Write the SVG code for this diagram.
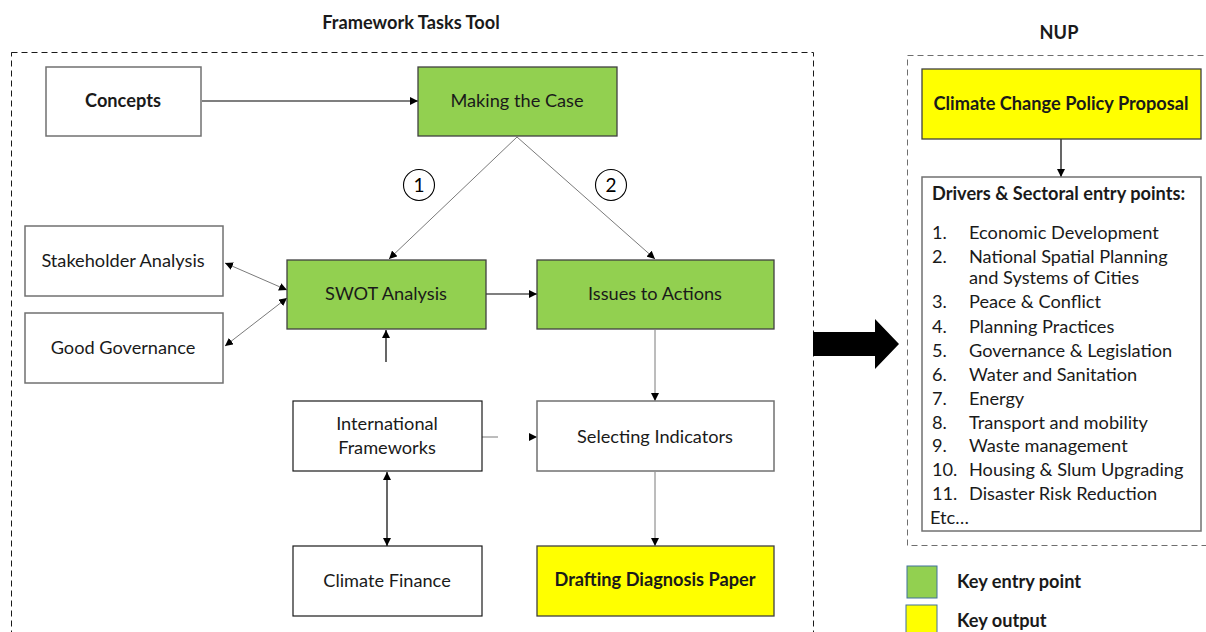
<svg xmlns="http://www.w3.org/2000/svg" width="1206" height="632" viewBox="0 0 1206 632">
<defs>
<style>
text{font-family:Lato,"Liberation Sans",sans-serif;fill:#1a1a1a}
.t{font-size:18.2px;text-anchor:middle}
.b{font-weight:bold}
.box{fill:#fff;stroke:#707070;stroke-width:1.5}
.boxk{fill:#fff;stroke:#1a1a1a;stroke-width:1.2}
.green{fill:#92D050;stroke:#404040;stroke-width:1.3}
.yellow{fill:#FFFF00;stroke:#404040;stroke-width:1.3}
.dash{fill:none;stroke:#1a1a1a;stroke-width:1;stroke-dasharray:6 4}
.dashg{fill:none;stroke:#6e6e6e;stroke-width:1;stroke-dasharray:6 4}
.c{fill:none;stroke:#000;stroke-width:1.2}
.cg{fill:none;stroke:#7a7a7a;stroke-width:1}
.li{font-size:18.2px}
</style>
<marker id="ah" viewBox="0 0 10 10" refX="10" refY="5" markerWidth="8" markerHeight="8" markerUnits="userSpaceOnUse" orient="auto-start-reverse">
<path d="M0,0 L10,5 L0,10 z" fill="#000"/>
</marker>
</defs>

<g id="frames">
<rect class="dash" x="11.5" y="52.5" width="802" height="600"/>
<rect class="dashg" x="907.5" y="55.5" width="320" height="490"/>
<text class="t b" x="411" y="29">Framework Tasks Tool</text>
<text class="t b" x="1059" y="39">NUP</text>
</g>

<g id="connectors">
<line class="c" x1="202" y1="101" x2="418" y2="101" marker-end="url(#ah)"/>
<line class="cg" x1="517" y1="137" x2="389" y2="259" marker-end="url(#ah)"/>
<line class="cg" x1="517" y1="137" x2="655" y2="259" marker-end="url(#ah)"/>
<line class="c" x1="486" y1="294" x2="537" y2="294" marker-end="url(#ah)"/>
<line class="cg" x1="225" y1="263" x2="287" y2="290" marker-start="url(#ah)" marker-end="url(#ah)"/>
<line class="cg" x1="225" y1="346" x2="287" y2="298" marker-start="url(#ah)" marker-end="url(#ah)"/>
<line class="c" x1="386" y1="362" x2="386" y2="330" marker-end="url(#ah)"/>
<line class="cg" x1="655" y1="330" x2="655" y2="401" marker-end="url(#ah)"/>
<line class="cg" x1="655" y1="472" x2="655" y2="546" marker-end="url(#ah)"/>
<path class="cg" d="M482,437 L537,437" stroke-dasharray="16 33 6" marker-end="url(#ah)"/>
<line class="c" x1="387" y1="472" x2="387" y2="546" marker-start="url(#ah)" marker-end="url(#ah)"/>
<line class="c" x1="1061" y1="139" x2="1061" y2="177" marker-end="url(#ah)"/>
<path d="M813,332 L875,332 L875,319 L899,344 L875,369 L875,356 L813,356 z" fill="#000"/>
</g>

<g id="label-1">
<circle cx="419" cy="185" r="15.5" fill="#fff" stroke="#000" stroke-width="1.1"/>
<text class="t" x="419" y="192" style="font-size:19px;fill:#000">1</text>
</g>
<g id="label-2">
<circle cx="611" cy="185" r="15.5" fill="#fff" stroke="#000" stroke-width="1.1"/>
<text class="t" x="611" y="192" style="font-size:19px;fill:#000">2</text>
</g>

<g id="concepts">
<rect class="box" x="46" y="67" width="155" height="69"/>
<text class="t b" x="123" y="107">Concepts</text>
</g>
<g id="making-the-case">
<rect class="green" x="418" y="67" width="199" height="69"/>
<text class="t" x="517" y="107">Making the Case</text>
</g>
<g id="stakeholder-analysis">
<rect class="box" x="25" y="226" width="198" height="70"/>
<text class="t" x="123" y="267">Stakeholder Analysis</text>
</g>
<g id="good-governance">
<rect class="box" x="25" y="313" width="198" height="70"/>
<text class="t" x="123" y="354">Good Governance</text>
</g>
<g id="swot-analysis">
<rect class="green" x="287" y="260" width="199" height="69"/>
<text class="t" x="386" y="300">SWOT Analysis</text>
</g>
<g id="issues-to-actions">
<rect class="green" x="537" y="260" width="237" height="69"/>
<text class="t" x="655" y="300">Issues to Actions</text>
</g>
<g id="international-frameworks">
<rect class="boxk" x="293" y="401" width="189" height="70"/>
<text class="t" x="387" y="430">International</text>
<text class="t" x="387" y="454">Frameworks</text>
</g>
<g id="selecting-indicators">
<rect class="box" x="537" y="401" width="237" height="70"/>
<text class="t" x="655" y="443">Selecting Indicators</text>
</g>
<g id="climate-finance">
<rect class="boxk" x="293" y="546" width="189" height="70"/>
<text class="t" x="387" y="587">Climate Finance</text>
</g>
<g id="drafting-diagnosis-paper">
<rect class="yellow" x="537" y="546" width="237" height="70"/>
<text class="t b" x="655" y="586">Drafting Diagnosis Paper</text>
</g>

<g id="climate-change-policy-proposal">
<rect class="yellow" x="922" y="69" width="279" height="70"/>
<text class="t b" x="1061" y="110">Climate Change Policy Proposal</text>
</g>
<g id="drivers">
<rect class="box" x="922" y="177" width="279" height="354"/>
<text class="li b" x="932" y="200">Drivers &amp; Sectoral entry points:</text>
<g class="li">
<text class="li" x="932" y="239">1.</text><text class="li" x="969" y="239">Economic Development</text>
<text class="li" x="932" y="263">2.</text><text class="li" x="969" y="263">National Spatial Planning</text>
<text class="li" x="969" y="284">and Systems of Cities</text>
<text class="li" x="932" y="308">3.</text><text class="li" x="969" y="308">Peace &amp; Conflict</text>
<text class="li" x="932" y="333">4.</text><text class="li" x="969" y="333">Planning Practices</text>
<text class="li" x="932" y="357">5.</text><text class="li" x="969" y="357">Governance &amp; Legislation</text>
<text class="li" x="932" y="381">6.</text><text class="li" x="969" y="381">Water and Sanitation</text>
<text class="li" x="932" y="405">7.</text><text class="li" x="969" y="405">Energy</text>
<text class="li" x="932" y="429">8.</text><text class="li" x="969" y="429">Transport and mobility</text>
<text class="li" x="932" y="452">9.</text><text class="li" x="969" y="452">Waste management</text>
<text class="li" x="932" y="476">10.</text><text class="li" x="969" y="476">Housing &amp; Slum Upgrading</text>
<text class="li" x="932" y="500">11.</text><text class="li" x="969" y="500">Disaster Risk Reduction</text>
<text class="li" x="930" y="524">Etc…</text>
</g>
</g>

<g id="legend">
<rect x="907" y="566" width="30" height="32" fill="#92D050" stroke="#41719C" stroke-width="1"/>
<text class="li b" x="957" y="588">Key entry point</text>
<rect x="906" y="605" width="31" height="32" fill="#FFFF00" stroke="#41719C" stroke-width="1"/>
<text class="li b" x="957" y="627">Key output</text>
</g>
</svg>
